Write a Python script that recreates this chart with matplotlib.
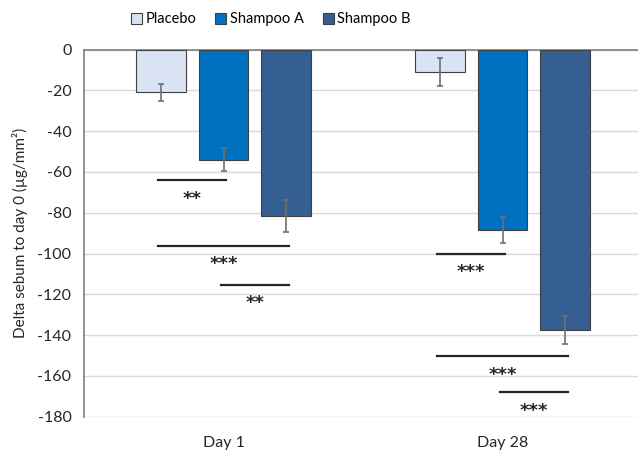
import matplotlib
matplotlib.use("Agg")
import matplotlib.pyplot as plt
import numpy as np

plt.rcParams['font.family'] = ['Lato', 'DejaVu Sans']
plt.rcParams['axes.unicode_minus'] = False

# data
days = ["Day 1", "Day 28"]
series = ["Placebo", "Shampoo A", "Shampoo B"]
placebo = [-21, -11]
shampoo_a = [-54, -88.5]
shampoo_b = [-81.5, -137.5]
placebo_err = [4, 6.8]
shampoo_a_err = [5.6, 6.2]
shampoo_b_err = [7.8, 7.0]
y_ticks = [0, -20, -40, -60, -80, -100, -120, -140, -160, -180]

# significance brackets: (day, from series, to series, level, label)
sig_day = [0, 0, 0, 1, 1, 1]
sig_from = [0, 0, 1, 0, 0, 1]
sig_to = [1, 2, 2, 1, 2, 2]
sig_y = [-64.2, -96.3, -115.5, -100.2, -150.4, -168]
sig_label = ["**", "***", "**", "***", "***", "***"]

colors = ["#DAE3F3", "#0070C0", "#355F91"]
values = [placebo, shampoo_a, shampoo_b]
errors = [placebo_err, shampoo_a_err, shampoo_b_err]

fig = plt.figure(figsize=(6.38, 4.5), dpi=100)
ax = fig.add_axes([84 / 638, 1 - 416.7 / 450, 558 / 638, (416.7 - 49.5) / 450])

x = np.arange(len(days))
step = 0.224
width = 0.176
for i, name in enumerate(series):
    ax.bar(x + (i - 1) * step, values[i], width, color=colors[i],
           edgecolor="#404040", linewidth=0.8, label=name, zorder=3)
    ax.errorbar(x + (i - 1) * step, values[i], yerr=errors[i], fmt="none",
                ecolor="#6f6f6f", elinewidth=1.2, capsize=2.5, capthick=1.2, zorder=4)

for d, a, b, y, lab in zip(sig_day, sig_from, sig_to, sig_y, sig_label):
    x0 = x[d] + (a - 1) * step - 0.01
    x1 = x[d] + (b - 1) * step + 0.01
    ax.plot([x0, x1], [y, y], color="#262626", linewidth=1.6, zorder=5)
    ax.text((x0 + x1) / 2, y - 9, lab, ha="center", va="center",
            fontsize=13, fontweight="bold", color="#262626", family="DejaVu Sans")

ax.set_xlim(-0.5, 1.5)
ax.set_ylim(-180, 0)
ax.set_yticks(y_ticks)
ax.set_xticks(x)
ax.set_xticklabels(days)
ax.tick_params(axis="both", length=0, labelsize=11.5, colors="#262626")
ax.tick_params(axis="x", pad=14)
ax.tick_params(axis="y", pad=9)
ax.yaxis.grid(True, color="#D9D9D9", linewidth=1, zorder=0)
ax.set_axisbelow(True)
for s in ["right", "bottom"]:
    ax.spines[s].set_visible(False)
ax.spines["top"].set_color("#808080")
ax.spines["top"].set_linewidth(1.2)
ax.spines["left"].set_color("#808080")
ax.spines["left"].set_linewidth(1.2)

ax.set_ylabel("Delta sebum to day 0 (µg/mm²)", fontsize=11, color="#262626", labelpad=7)

ax.legend(loc="upper center", bbox_to_anchor=((271 - 84) / 558, 1 + 43 / 367), ncol=3,
          frameon=False, fontsize=10.5, handlelength=0.75, handleheight=0.75,
          handletextpad=0.25, columnspacing=1.3, borderaxespad=0)

fig.savefig("out.png", dpi=100)
